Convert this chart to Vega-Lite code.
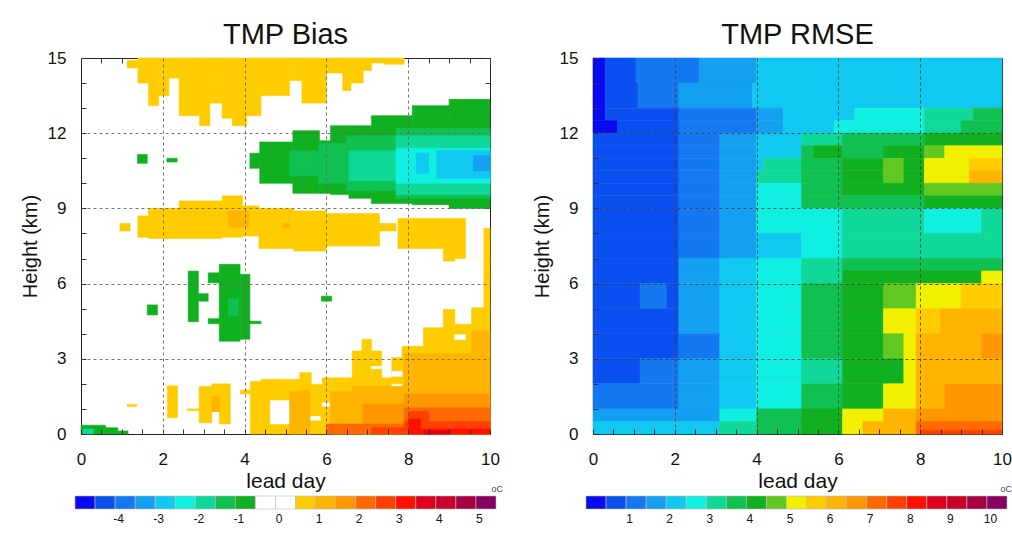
{
"$schema": "https://vega.github.io/schema/vega-lite/v6.json",
"background": "white",
"padding": {"left": 19, "top": 20, "right": 0, "bottom": 0},
"bounds": "flush",
"columns": 2,
"spacing": {"row": 62, "column": 103},
"resolve": {"scale": {"color": "independent", "stroke": "independent"}},
"config": {
  "font": "Liberation Sans",
  "view": {"stroke": "#222", "strokeWidth": 1},
  "axis": {"labelFont": "Liberation Sans", "titleFont": "Liberation Sans", "labelColor": "#111", "titleColor": "#111", "titleFontWeight": "normal", "domain": false, "labelFlush": false, "labelOverlap": false, "tickColor": "#333"},
  "title": {"font": "Liberation Sans", "fontWeight": "normal", "color": "#111"}
},
"datasets": {
  "bias": [
    {"x":1.13,"x2":1.39,"y":14.6,"y2":14.9,"v":0.75},
    {"x":1.39,"x2":1.65,"y":14.0,"y2":15,"v":0.75},
    {"x":1.65,"x2":1.9,"y":13.1,"y2":15,"v":0.75},
    {"x":1.9,"x2":2.15,"y":13.5,"y2":15,"v":0.75},
    {"x":2.15,"x2":2.4,"y":14.2,"y2":15,"v":0.75},
    {"x":2.4,"x2":2.9,"y":12.7,"y2":15,"v":0.75},
    {"x":2.9,"x2":3.15,"y":12.3,"y2":15,"v":0.75},
    {"x":3.15,"x2":3.45,"y":13.2,"y2":15,"v":0.75},
    {"x":3.45,"x2":3.7,"y":12.6,"y2":15,"v":0.75},
    {"x":3.7,"x2":4.05,"y":12.3,"y2":15,"v":0.75},
    {"x":4.05,"x2":4.4,"y":12.7,"y2":15,"v":0.75},
    {"x":4.4,"x2":5.1,"y":13.5,"y2":15,"v":0.75},
    {"x":5.1,"x2":5.4,"y":14.1,"y2":15,"v":0.75},
    {"x":5.4,"x2":6.0,"y":13.2,"y2":15,"v":0.75},
    {"x":6.0,"x2":6.4,"y":14.4,"y2":15,"v":0.75},
    {"x":6.4,"x2":6.6,"y":13.7,"y2":15,"v":0.75},
    {"x":6.6,"x2":6.9,"y":14.0,"y2":15,"v":0.75},
    {"x":6.9,"x2":7.1,"y":14.5,"y2":15,"v":0.75},
    {"x":7.1,"x2":7.4,"y":14.8,"y2":15,"v":0.75},
    {"x":7.4,"x2":7.9,"y":14.75,"y2":15,"v":0.75},
    {"x":1.38,"x2":1.62,"y":10.8,"y2":11.15,"v":-0.75},
    {"x":2.1,"x2":2.35,"y":10.85,"y2":11.0,"v":-0.75},
    {"x":4.13,"x2":4.37,"y":10.6,"y2":11.2,"v":-0.75},
    {"x":4.37,"x2":5.18,"y":10.0,"y2":11.65,"v":-0.75},
    {"x":5.18,"x2":5.83,"y":9.6,"y2":12.1,"v":-0.75},
    {"x":5.83,"x2":6.1,"y":9.6,"y2":11.7,"v":-0.75},
    {"x":6.1,"x2":6.55,"y":9.55,"y2":12.3,"v":-0.75},
    {"x":6.55,"x2":7.1,"y":9.4,"y2":12.3,"v":-0.75},
    {"x":7.1,"x2":8.1,"y":9.2,"y2":12.7,"v":-0.75},
    {"x":8.1,"x2":9.0,"y":9.15,"y2":13.1,"v":-0.75},
    {"x":9.0,"x2":10,"y":9.0,"y2":13.35,"v":-0.75},
    {"x":5.1,"x2":5.8,"y":10.3,"y2":11.3,"v":-1.25},
    {"x":5.8,"x2":6.5,"y":10.0,"y2":11.6,"v":-1.25},
    {"x":6.5,"x2":7.7,"y":9.7,"y2":11.9,"v":-1.25},
    {"x":7.7,"x2":10,"y":9.4,"y2":12.2,"v":-1.25},
    {"x":6.55,"x2":7.7,"y":10.1,"y2":11.3,"v":-1.75},
    {"x":7.7,"x2":10,"y":9.55,"y2":11.9,"v":-1.75},
    {"x":7.7,"x2":10,"y":10.0,"y2":11.4,"v":-2.25},
    {"x":8.2,"x2":8.5,"y":10.4,"y2":11.2,"v":-2.75},
    {"x":8.7,"x2":10,"y":10.2,"y2":11.3,"v":-2.75},
    {"x":9.6,"x2":10,"y":10.5,"y2":11.1,"v":-3.25},
    {"x":0.95,"x2":1.2,"y":8.1,"y2":8.4,"v":0.75},
    {"x":1.39,"x2":1.65,"y":7.85,"y2":8.7,"v":0.75},
    {"x":1.65,"x2":2.4,"y":7.8,"y2":9.0,"v":0.75},
    {"x":2.4,"x2":3.45,"y":7.8,"y2":9.3,"v":0.75},
    {"x":3.45,"x2":3.95,"y":7.85,"y2":9.5,"v":0.75},
    {"x":3.95,"x2":4.35,"y":7.9,"y2":9.1,"v":0.75},
    {"x":4.35,"x2":5.2,"y":7.4,"y2":9.0,"v":0.75},
    {"x":5.2,"x2":6.0,"y":7.3,"y2":8.9,"v":0.75},
    {"x":6.0,"x2":7.3,"y":7.5,"y2":8.8,"v":0.75},
    {"x":7.3,"x2":7.7,"y":8.1,"y2":8.4,"v":0.75},
    {"x":7.75,"x2":8.86,"y":7.4,"y2":8.6,"v":0.75},
    {"x":8.86,"x2":9.14,"y":6.9,"y2":8.6,"v":0.75},
    {"x":9.14,"x2":9.4,"y":7.0,"y2":8.6,"v":0.75},
    {"x":9.85,"x2":10,"y":5.0,"y2":8.2,"v":0.75},
    {"x":3.6,"x2":4.1,"y":8.25,"y2":8.9,"v":1.25},
    {"x":4.95,"x2":5.1,"y":8.25,"y2":8.4,"v":1.25},
    {"x":1.62,"x2":1.87,"y":4.75,"y2":5.15,"v":-0.75},
    {"x":2.62,"x2":2.87,"y":4.48,"y2":6.5,"v":-0.75},
    {"x":2.87,"x2":3.11,"y":5.3,"y2":5.6,"v":-0.75},
    {"x":3.11,"x2":3.38,"y":6.03,"y2":6.43,"v":-0.75},
    {"x":3.11,"x2":3.38,"y":4.4,"y2":4.6,"v":-0.75},
    {"x":3.38,"x2":3.89,"y":3.7,"y2":6.77,"v":-0.75},
    {"x":3.89,"x2":4.13,"y":3.78,"y2":6.37,"v":-0.75},
    {"x":4.13,"x2":4.4,"y":4.4,"y2":4.5,"v":-0.75},
    {"x":5.88,"x2":6.13,"y":5.3,"y2":5.5,"v":-0.75},
    {"x":3.6,"x2":3.85,"y":4.7,"y2":5.4,"v":-1.25},
    {"x":0,"x2":0.6,"y":0,"y2":0.35,"v":-0.75},
    {"x":0.6,"x2":0.9,"y":0,"y2":0.25,"v":-0.75},
    {"x":0.9,"x2":1.15,"y":0,"y2":0.12,"v":-0.75},
    {"x":0.05,"x2":0.3,"y":0,"y2":0.2,"v":-1.75},
    {"x":1.13,"x2":1.36,"y":1.1,"y2":1.18,"v":0.75},
    {"x":2.11,"x2":2.36,"y":0.65,"y2":1.92,"v":0.75},
    {"x":2.6,"x2":3.15,"y":0.93,"y2":1.0,"v":0.75},
    {"x":2.89,"x2":3.2,"y":0.45,"y2":1.9,"v":0.75},
    {"x":3.2,"x2":3.38,"y":0.9,"y2":2.0,"v":0.75},
    {"x":3.38,"x2":3.65,"y":0.4,"y2":2.0,"v":0.75},
    {"x":3.9,"x2":4.14,"y":1.6,"y2":1.75,"v":0.75},
    {"x":4.14,"x2":4.4,"y":0,"y2":2.1,"v":0.75},
    {"x":4.4,"x2":5.35,"y":0,"y2":2.18,"v":0.75},
    {"x":5.35,"x2":5.63,"y":0,"y2":2.45,"v":0.75},
    {"x":5.63,"x2":5.9,"y":0,"y2":1.98,"v":0.75},
    {"x":5.9,"x2":6.63,"y":0,"y2":2.24,"v":0.75},
    {"x":6.63,"x2":6.87,"y":0,"y2":3.31,"v":0.75},
    {"x":6.87,"x2":7.1,"y":0,"y2":3.78,"v":0.75},
    {"x":7.1,"x2":7.35,"y":0,"y2":3.31,"v":0.75},
    {"x":7.35,"x2":7.6,"y":0,"y2":2.24,"v":0.75},
    {"x":7.6,"x2":7.85,"y":0,"y2":3.05,"v":0.75},
    {"x":7.85,"x2":8.37,"y":0,"y2":3.5,"v":0.75},
    {"x":8.37,"x2":8.86,"y":0,"y2":4.24,"v":0.75},
    {"x":8.86,"x2":9.14,"y":0,"y2":4.97,"v":0.75},
    {"x":9.14,"x2":9.55,"y":0,"y2":4.38,"v":0.75},
    {"x":9.55,"x2":10,"y":0,"y2":5.04,"v":0.75},
    {"x":4.63,"x2":5.12,"y":0.4,"y2":1.33,"v":0.1},
    {"x":7.6,"x2":7.85,"y":1.52,"y2":1.98,"v":0.1},
    {"x":7.6,"x2":7.85,"y":2.3,"y2":2.5,"v":0.1},
    {"x":9.14,"x2":9.4,"y":3.77,"y2":3.96,"v":0.1},
    {"x":5.9,"x2":6.1,"y":1.1,"y2":1.25,"v":0.1},
    {"x":5.6,"x2":5.85,"y":0.55,"y2":0.7,"v":0.1},
    {"x":7.1,"x2":7.35,"y":2.6,"y2":2.7,"v":0.1},
    {"x":3.2,"x2":3.38,"y":0.9,"y2":1.5,"v":1.25},
    {"x":5.1,"x2":5.35,"y":0,"y2":1.7,"v":1.25},
    {"x":5.35,"x2":5.6,"y":0,"y2":1.75,"v":1.25},
    {"x":6.1,"x2":6.63,"y":0,"y2":1.7,"v":1.25},
    {"x":6.63,"x2":7.9,"y":0,"y2":1.9,"v":1.25},
    {"x":7.9,"x2":9.55,"y":0,"y2":3.2,"v":1.25},
    {"x":9.55,"x2":10,"y":0,"y2":4.1,"v":1.25},
    {"x":6.9,"x2":7.9,"y":0,"y2":1.2,"v":1.75},
    {"x":7.9,"x2":10,"y":0,"y2":1.6,"v":1.75},
    {"x":6.0,"x2":7.9,"y":0,"y2":0.4,"v":2.25},
    {"x":7.9,"x2":10,"y":0,"y2":1.05,"v":2.25},
    {"x":7.1,"x2":7.9,"y":0,"y2":0.25,"v":2.75},
    {"x":7.9,"x2":10,"y":0,"y2":0.5,"v":2.75},
    {"x":8.0,"x2":8.5,"y":0,"y2":0.9,"v":2.75},
    {"x":8.0,"x2":8.3,"y":0,"y2":0.6,"v":3.25},
    {"x":8.3,"x2":10,"y":0,"y2":0.2,"v":3.25},
    {"x":8.4,"x2":9.0,"y":0,"y2":0.12,"v":3.75}
  ],
  "rmse": [
    {"x":0,"x2":0.3,"y":14,"y2":15,"v":0.25},{"x":0.3,"x2":1.05,"y":14,"y2":15,"v":0.75},{"x":1.05,"x2":2.6,"y":14,"y2":15,"v":1.25},{"x":2.6,"x2":4.0,"y":14,"y2":15,"v":1.75},{"x":4.0,"x2":10,"y":14,"y2":15,"v":2.25},
    {"x":0,"x2":0.3,"y":13,"y2":14,"v":0.25},{"x":0.3,"x2":1.1,"y":13,"y2":14,"v":0.75},{"x":1.1,"x2":2.1,"y":13,"y2":14,"v":1.25},{"x":2.1,"x2":3.9,"y":13,"y2":14,"v":1.75},{"x":3.9,"x2":10,"y":13,"y2":14,"v":2.25},
    {"x":0,"x2":0.3,"y":12.5,"y2":13,"v":0.25},{"x":0.3,"x2":2.1,"y":12.5,"y2":13,"v":0.75},{"x":2.1,"x2":4.0,"y":12.5,"y2":13,"v":1.25},{"x":4.0,"x2":4.65,"y":12.5,"y2":13,"v":1.75},{"x":4.65,"x2":6.4,"y":12.5,"y2":13,"v":2.25},{"x":6.4,"x2":8.1,"y":12.5,"y2":13,"v":2.75},{"x":8.1,"x2":9.3,"y":12.5,"y2":13,"v":3.25},{"x":9.3,"x2":10,"y":12.5,"y2":13,"v":3.75},
    {"x":0,"x2":0.6,"y":12,"y2":12.5,"v":0.25},{"x":0.6,"x2":2.1,"y":12,"y2":12.5,"v":0.75},{"x":2.1,"x2":4.0,"y":12,"y2":12.5,"v":1.25},{"x":4.0,"x2":4.65,"y":12,"y2":12.5,"v":1.75},{"x":4.65,"x2":5.9,"y":12,"y2":12.5,"v":2.25},{"x":5.9,"x2":8.1,"y":12,"y2":12.5,"v":2.75},{"x":8.1,"x2":9.0,"y":12,"y2":12.5,"v":3.25},{"x":9.0,"x2":10,"y":12,"y2":12.5,"v":3.75},
    {"x":0,"x2":2.1,"y":11.5,"y2":12,"v":0.75},{"x":2.1,"x2":3.1,"y":11.5,"y2":12,"v":1.25},{"x":3.1,"x2":4.0,"y":11.5,"y2":12,"v":1.75},{"x":4.0,"x2":5.1,"y":11.5,"y2":12,"v":2.25},{"x":5.1,"x2":6.1,"y":11.5,"y2":12,"v":3.25},{"x":6.1,"x2":8.1,"y":11.5,"y2":12,"v":3.75},{"x":8.1,"x2":10,"y":11.5,"y2":12,"v":4.25},
    {"x":0,"x2":2.1,"y":11,"y2":11.5,"v":0.75},{"x":2.1,"x2":3.1,"y":11,"y2":11.5,"v":1.25},{"x":3.1,"x2":4.0,"y":11,"y2":11.5,"v":1.75},{"x":4.0,"x2":5.1,"y":11,"y2":11.5,"v":2.25},{"x":5.1,"x2":5.4,"y":11,"y2":11.5,"v":3.75},{"x":5.4,"x2":6.1,"y":11,"y2":11.5,"v":4.25},{"x":6.1,"x2":7.1,"y":11,"y2":11.5,"v":3.75},{"x":7.1,"x2":8.1,"y":11,"y2":11.5,"v":4.25},{"x":8.1,"x2":8.6,"y":11,"y2":11.5,"v":4.75},{"x":8.6,"x2":10,"y":11,"y2":11.5,"v":5.25},
    {"x":0,"x2":2.1,"y":10.5,"y2":11,"v":0.75},{"x":2.1,"x2":3.1,"y":10.5,"y2":11,"v":1.25},{"x":3.1,"x2":4.0,"y":10.5,"y2":11,"v":1.75},{"x":4.0,"x2":4.16,"y":10.5,"y2":11,"v":2.25},{"x":4.16,"x2":5.1,"y":10.5,"y2":11,"v":3.25},{"x":5.1,"x2":6.1,"y":10.5,"y2":11,"v":3.75},{"x":6.1,"x2":7.1,"y":10.5,"y2":11,"v":4.25},{"x":7.1,"x2":7.6,"y":10.5,"y2":11,"v":4.75},{"x":7.6,"x2":8.1,"y":10.5,"y2":11,"v":4.25},{"x":8.1,"x2":9.2,"y":10.5,"y2":11,"v":5.25},{"x":9.2,"x2":10,"y":10.5,"y2":11,"v":5.75},
    {"x":0,"x2":2.1,"y":10,"y2":10.5,"v":0.75},{"x":2.1,"x2":3.1,"y":10,"y2":10.5,"v":1.25},{"x":3.1,"x2":4.0,"y":10,"y2":10.5,"v":1.75},{"x":4.0,"x2":5.1,"y":10,"y2":10.5,"v":3.25},{"x":5.1,"x2":6.1,"y":10,"y2":10.5,"v":3.75},{"x":6.1,"x2":7.1,"y":10,"y2":10.5,"v":4.25},{"x":7.1,"x2":7.6,"y":10,"y2":10.5,"v":4.75},{"x":7.6,"x2":8.1,"y":10,"y2":10.5,"v":4.25},{"x":8.1,"x2":9.2,"y":10,"y2":10.5,"v":5.25},{"x":9.2,"x2":10,"y":10,"y2":10.5,"v":6.25},
    {"x":0,"x2":2.1,"y":9.5,"y2":10,"v":0.75},{"x":2.1,"x2":3.1,"y":9.5,"y2":10,"v":1.25},{"x":3.1,"x2":4.0,"y":9.5,"y2":10,"v":1.75},{"x":4.0,"x2":5.1,"y":9.5,"y2":10,"v":2.75},{"x":5.1,"x2":6.1,"y":9.5,"y2":10,"v":3.75},{"x":6.1,"x2":8.1,"y":9.5,"y2":10,"v":4.25},{"x":8.1,"x2":10,"y":9.5,"y2":10,"v":4.75},
    {"x":0,"x2":2.1,"y":9,"y2":9.5,"v":0.75},{"x":2.1,"x2":3.1,"y":9,"y2":9.5,"v":1.25},{"x":3.1,"x2":4.0,"y":9,"y2":9.5,"v":1.75},{"x":4.0,"x2":5.1,"y":9,"y2":9.5,"v":2.75},{"x":5.1,"x2":8.1,"y":9,"y2":9.5,"v":3.75},{"x":8.1,"x2":10,"y":9,"y2":9.5,"v":4.25},
    {"x":0,"x2":2.1,"y":8,"y2":9,"v":0.75},{"x":2.1,"x2":3.1,"y":8,"y2":9,"v":1.25},{"x":3.1,"x2":4.0,"y":8,"y2":9,"v":1.75},{"x":4.0,"x2":6.1,"y":8,"y2":9,"v":2.75},{"x":6.1,"x2":8.1,"y":8,"y2":9,"v":3.25},{"x":8.1,"x2":9.5,"y":8,"y2":9,"v":2.75},{"x":9.5,"x2":10,"y":8,"y2":9,"v":3.25},
    {"x":0,"x2":2.1,"y":7,"y2":8,"v":0.75},{"x":2.1,"x2":3.1,"y":7,"y2":8,"v":1.25},{"x":3.1,"x2":4.0,"y":7,"y2":8,"v":1.75},{"x":4.0,"x2":5.1,"y":7,"y2":8,"v":2.25},{"x":5.1,"x2":6.1,"y":7,"y2":8,"v":2.75},{"x":6.1,"x2":10,"y":7,"y2":8,"v":3.25},
    {"x":0,"x2":2.1,"y":6.5,"y2":7,"v":0.75},{"x":2.1,"x2":3.1,"y":6.5,"y2":7,"v":1.75},{"x":3.1,"x2":4.0,"y":6.5,"y2":7,"v":2.25},{"x":4.0,"x2":5.1,"y":6.5,"y2":7,"v":2.75},{"x":5.1,"x2":6.1,"y":6.5,"y2":7,"v":3.25},{"x":6.1,"x2":10,"y":6.5,"y2":7,"v":3.75},
    {"x":0,"x2":2.1,"y":6,"y2":6.5,"v":0.75},{"x":2.1,"x2":3.1,"y":6,"y2":6.5,"v":1.75},{"x":3.1,"x2":4.0,"y":6,"y2":6.5,"v":2.25},{"x":4.0,"x2":5.1,"y":6,"y2":6.5,"v":2.75},{"x":5.1,"x2":6.1,"y":6,"y2":6.5,"v":3.25},{"x":6.1,"x2":9.5,"y":6,"y2":6.5,"v":4.25},{"x":9.5,"x2":10,"y":6,"y2":6.5,"v":5.25},
    {"x":0,"x2":1.15,"y":5,"y2":6,"v":0.75},{"x":1.15,"x2":1.8,"y":5,"y2":6,"v":1.25},{"x":1.8,"x2":2.1,"y":5,"y2":6,"v":0.75},{"x":2.1,"x2":3.1,"y":5,"y2":6,"v":1.75},{"x":3.1,"x2":4.0,"y":5,"y2":6,"v":2.25},{"x":4.0,"x2":5.1,"y":5,"y2":6,"v":2.75},{"x":5.1,"x2":6.1,"y":5,"y2":6,"v":3.75},{"x":6.1,"x2":7.1,"y":5,"y2":6,"v":4.25},{"x":7.1,"x2":7.9,"y":5,"y2":6,"v":4.75},{"x":7.9,"x2":9.0,"y":5,"y2":6,"v":5.25},{"x":9.0,"x2":10,"y":5,"y2":6,"v":5.75},
    {"x":0,"x2":2.1,"y":4,"y2":5,"v":0.75},{"x":2.1,"x2":3.1,"y":4,"y2":5,"v":1.75},{"x":3.1,"x2":4.0,"y":4,"y2":5,"v":2.25},{"x":4.0,"x2":5.1,"y":4,"y2":5,"v":2.75},{"x":5.1,"x2":6.1,"y":4,"y2":5,"v":3.75},{"x":6.1,"x2":7.1,"y":4,"y2":5,"v":4.25},{"x":7.1,"x2":7.9,"y":4,"y2":5,"v":5.25},{"x":7.9,"x2":8.5,"y":4,"y2":5,"v":5.75},{"x":8.5,"x2":10,"y":4,"y2":5,"v":6.25},
    {"x":0,"x2":2.1,"y":3,"y2":4,"v":0.75},{"x":2.1,"x2":3.1,"y":3,"y2":4,"v":1.25},{"x":3.1,"x2":4.0,"y":3,"y2":4,"v":2.25},{"x":4.0,"x2":5.1,"y":3,"y2":4,"v":2.75},{"x":5.1,"x2":6.1,"y":3,"y2":4,"v":3.75},{"x":6.1,"x2":7.1,"y":3,"y2":4,"v":4.25},{"x":7.1,"x2":7.6,"y":3,"y2":4,"v":4.75},{"x":7.6,"x2":7.9,"y":3,"y2":4,"v":5.25},{"x":7.9,"x2":9.5,"y":3,"y2":4,"v":6.25},{"x":9.5,"x2":10,"y":3,"y2":4,"v":6.75},
    {"x":0,"x2":1.15,"y":2,"y2":3,"v":0.75},{"x":1.15,"x2":2.1,"y":2,"y2":3,"v":1.25},{"x":2.1,"x2":3.1,"y":2,"y2":3,"v":1.75},{"x":3.1,"x2":4.0,"y":2,"y2":3,"v":2.25},{"x":4.0,"x2":5.1,"y":2,"y2":3,"v":2.75},{"x":5.1,"x2":6.1,"y":2,"y2":3,"v":3.25},{"x":6.1,"x2":7.6,"y":2,"y2":3,"v":4.25},{"x":7.6,"x2":7.9,"y":2,"y2":3,"v":5.25},{"x":7.9,"x2":10,"y":2,"y2":3,"v":6.25},
    {"x":0,"x2":2.1,"y":1,"y2":2,"v":1.25},{"x":2.1,"x2":3.1,"y":1,"y2":2,"v":1.75},{"x":3.1,"x2":4.0,"y":1,"y2":2,"v":2.25},{"x":4.0,"x2":5.1,"y":1,"y2":2,"v":2.75},{"x":5.1,"x2":6.1,"y":1,"y2":2,"v":3.75},{"x":6.1,"x2":7.1,"y":1,"y2":2,"v":4.25},{"x":7.1,"x2":7.9,"y":1,"y2":2,"v":5.25},{"x":7.9,"x2":8.6,"y":1,"y2":2,"v":6.25},{"x":8.6,"x2":10,"y":1,"y2":2,"v":6.75},
    {"x":0,"x2":3.1,"y":0.5,"y2":1,"v":1.75},{"x":3.1,"x2":4.0,"y":0.5,"y2":1,"v":2.75},{"x":4.0,"x2":5.1,"y":0.5,"y2":1,"v":3.75},{"x":5.1,"x2":6.1,"y":0.5,"y2":1,"v":4.25},{"x":6.1,"x2":7.1,"y":0.5,"y2":1,"v":5.25},{"x":7.1,"x2":7.9,"y":0.5,"y2":1,"v":6.25},{"x":7.9,"x2":10,"y":0.5,"y2":1,"v":6.75},
    {"x":0,"x2":3.1,"y":0,"y2":0.5,"v":2.25},{"x":3.1,"x2":4.0,"y":0,"y2":0.5,"v":3.25},{"x":4.0,"x2":5.1,"y":0,"y2":0.5,"v":3.75},{"x":5.1,"x2":6.1,"y":0,"y2":0.5,"v":4.25},{"x":6.1,"x2":6.6,"y":0,"y2":0.5,"v":5.25},{"x":6.6,"x2":7.9,"y":0,"y2":0.5,"v":6.25},{"x":7.9,"x2":10,"y":0,"y2":0.5,"v":7.25},
    {"x":8.0,"x2":10,"y":0,"y2":0.15,"v":7.75}
  ],
  "biasbar": [
    {"lo":-5,"hi":-4.5,"v":-4.75},{"lo":-4.5,"hi":-4,"v":-4.25},{"lo":-4,"hi":-3.5,"v":-3.75},{"lo":-3.5,"hi":-3,"v":-3.25},{"lo":-3,"hi":-2.5,"v":-2.75},{"lo":-2.5,"hi":-2,"v":-2.25},{"lo":-2,"hi":-1.5,"v":-1.75},{"lo":-1.5,"hi":-1,"v":-1.25},{"lo":-1,"hi":-0.5,"v":-0.75},{"lo":-0.5,"hi":0,"v":-0.25},{"lo":0,"hi":0.5,"v":0.25},{"lo":0.5,"hi":1,"v":0.75},{"lo":1,"hi":1.5,"v":1.25},{"lo":1.5,"hi":2,"v":1.75},{"lo":2,"hi":2.5,"v":2.25},{"lo":2.5,"hi":3,"v":2.75},{"lo":3,"hi":3.5,"v":3.25},{"lo":3.5,"hi":4,"v":3.75},{"lo":4,"hi":4.5,"v":4.25},{"lo":4.5,"hi":5,"v":4.75},{"lo":5,"hi":5.5,"v":5.25}
  ],
  "rmsebar": [
    {"lo":0,"hi":0.5,"v":0.25},{"lo":0.5,"hi":1,"v":0.75},{"lo":1,"hi":1.5,"v":1.25},{"lo":1.5,"hi":2,"v":1.75},{"lo":2,"hi":2.5,"v":2.25},{"lo":2.5,"hi":3,"v":2.75},{"lo":3,"hi":3.5,"v":3.25},{"lo":3.5,"hi":4,"v":3.75},{"lo":4,"hi":4.5,"v":4.25},{"lo":4.5,"hi":5,"v":4.75},{"lo":5,"hi":5.5,"v":5.25},{"lo":5.5,"hi":6,"v":5.75},{"lo":6,"hi":6.5,"v":6.25},{"lo":6.5,"hi":7,"v":6.75},{"lo":7,"hi":7.5,"v":7.25},{"lo":7.5,"hi":8,"v":7.75},{"lo":8,"hi":8.5,"v":8.25},{"lo":8.5,"hi":9,"v":8.75},{"lo":9,"hi":9.5,"v":9.25},{"lo":9.5,"hi":10,"v":9.75},{"lo":10,"hi":10.5,"v":10.25}
  ]
},
"concat": [
  {
    "title": {"text": "TMP Bias", "fontSize": 29, "offset": -1},
    "width": 409, "height": 376,
    "data": {"name": "bias"},
    "layer": [
      {"mark": {"type": "rect", "strokeWidth": 0.6},
       "encoding": {
        "x": {"field": "x", "type": "quantitative", "scale": {"domain": [0, 10], "nice": false, "zero": false},
              "axis": {"orient": "bottom", "values": [0,0.5,1,1.5,2,2.5,3,3.5,4,4.5,5,5.5,6,6.5,7,7.5,8,8.5,9,9.5,10], "labelExpr": "datum.value % 2 === 0 ? toString(datum.value) : ''", "grid": true, "gridDash": [3,3], "gridColor": "#666", "gridOpacity": {"condition": {"test": "datum.value % 2 === 0 && datum.value > 0 && datum.value < 10", "value": 0.9}, "value": 0}, "tickSize": -5, "labelPadding": 22, "labelFontSize": 17, "title": "lead day", "titleFontSize": 21, "titlePadding": 3, "zindex": 1}},
        "x2": {"field": "x2"},
        "y": {"field": "y", "type": "quantitative", "scale": {"domain": [0, 15], "nice": false, "zero": false},
              "axis": {"orient": "left", "values": [0,1,2,3,4,5,6,7,8,9,10,11,12,13,14,15], "labelExpr": "datum.value % 3 === 0 ? toString(datum.value) : ''", "grid": true, "gridDash": [3,3], "gridColor": "#666", "gridOpacity": {"condition": {"test": "datum.value % 3 === 0 && datum.value > 0 && datum.value < 15", "value": 0.9}, "value": 0}, "tickSize": -5, "labelPadding": 20, "labelFontSize": 17, "title": "Height (km)", "titleFontSize": 20, "titlePadding": 7, "zindex": 1}},
        "y2": {"field": "y2"},
        "color": {"field": "v", "type": "quantitative", "legend": null,
          "scale": {"type": "threshold", "domain": [-4.5,-4,-3.5,-3,-2.5,-2,-1.5,-1,-0.5,0,0.5,1,1.5,2,2.5,3,3.5,4,4.5,5],
            "range": ["#0a0af0","#0a50f0","#1478f0","#14a0f0","#10c8f0","#10f0e0","#10d898","#10c050","#10b020","#ffffff","#ffffff","#ffcc00","#ffb400","#ff9800","#ff6a00","#ff4000","#ff1000","#e0001c","#c8002c","#a80040","#880060"]}},
        "stroke": {"field": "v", "type": "quantitative", "legend": null,
          "scale": {"type": "threshold", "domain": [-4.5,-4,-3.5,-3,-2.5,-2,-1.5,-1,-0.5,0,0.5,1,1.5,2,2.5,3,3.5,4,4.5,5],
            "range": ["#0a0af0","#0a50f0","#1478f0","#14a0f0","#10c8f0","#10f0e0","#10d898","#10c050","#10b020","#ffffff","#ffffff","#ffcc00","#ffb400","#ff9800","#ff6a00","#ff4000","#ff1000","#e0001c","#c8002c","#a80040","#880060"]}}
       }},
      {"mark": {"type": "point", "opacity": 0},
       "encoding": {
        "x": {"field": "x", "type": "quantitative", "scale": {"domain": [0, 10], "nice": false, "zero": false},
              "axis": {"orient": "top", "values": [0,0.5,1,1.5,2,2.5,3,3.5,4,4.5,5,5.5,6,6.5,7,7.5,8,8.5,9,9.5,10], "labels": false, "grid": false, "tickSize": -5, "title": null}},
        "y": {"field": "y", "type": "quantitative", "scale": {"domain": [0, 15], "nice": false, "zero": false},
              "axis": {"orient": "right", "values": [0,1,2,3,4,5,6,7,8,9,10,11,12,13,14,15], "labels": false, "grid": false, "tickSize": -5, "title": null}}
       }}
    ],
    "resolve": {"scale": {"x": "independent", "y": "independent"}, "axis": {"x": "independent", "y": "independent"}}
  },
  {
    "title": {"text": "TMP RMSE", "fontSize": 29, "offset": -1},
    "width": 409, "height": 376,
    "data": {"name": "rmse"},
    "layer": [
      {"mark": {"type": "rect", "strokeWidth": 0.6},
       "encoding": {
        "x": {"field": "x", "type": "quantitative", "scale": {"domain": [0, 10], "nice": false, "zero": false},
              "axis": {"orient": "bottom", "values": [0,0.5,1,1.5,2,2.5,3,3.5,4,4.5,5,5.5,6,6.5,7,7.5,8,8.5,9,9.5,10], "labelExpr": "datum.value % 2 === 0 ? toString(datum.value) : ''", "grid": true, "gridDash": [3,3], "gridColor": "#444", "gridOpacity": {"condition": {"test": "datum.value % 2 === 0 && datum.value > 0 && datum.value < 10", "value": 0.9}, "value": 0}, "tickSize": -5, "labelPadding": 22, "labelFontSize": 17, "title": "lead day", "titleFontSize": 21, "titlePadding": 3, "zindex": 1}},
        "x2": {"field": "x2"},
        "y": {"field": "y", "type": "quantitative", "scale": {"domain": [0, 15], "nice": false, "zero": false},
              "axis": {"orient": "left", "values": [0,1,2,3,4,5,6,7,8,9,10,11,12,13,14,15], "labelExpr": "datum.value % 3 === 0 ? toString(datum.value) : ''", "grid": true, "gridDash": [3,3], "gridColor": "#444", "gridOpacity": {"condition": {"test": "datum.value % 3 === 0 && datum.value > 0 && datum.value < 15", "value": 0.9}, "value": 0}, "tickSize": -5, "labelPadding": 20, "labelFontSize": 17, "title": "Height (km)", "titleFontSize": 20, "titlePadding": 7, "zindex": 1}},
        "y2": {"field": "y2"},
        "color": {"field": "v", "type": "quantitative", "legend": null,
          "scale": {"type": "threshold", "domain": [0.5,1,1.5,2,2.5,3,3.5,4,4.5,5,5.5,6,6.5,7,7.5,8,8.5,9,9.5,10],
            "range": ["#0a0af0","#0a50f0","#1478f0","#14a0f0","#10c8f0","#10f0e0","#10d898","#10c050","#10b020","#60c820","#f0f000","#ffcc00","#ffb400","#ff9800","#ff6a00","#ff4000","#ff1000","#e0001c","#c8002c","#a80040","#880060"]}},
        "stroke": {"field": "v", "type": "quantitative", "legend": null,
          "scale": {"type": "threshold", "domain": [0.5,1,1.5,2,2.5,3,3.5,4,4.5,5,5.5,6,6.5,7,7.5,8,8.5,9,9.5,10],
            "range": ["#0a0af0","#0a50f0","#1478f0","#14a0f0","#10c8f0","#10f0e0","#10d898","#10c050","#10b020","#60c820","#f0f000","#ffcc00","#ffb400","#ff9800","#ff6a00","#ff4000","#ff1000","#e0001c","#c8002c","#a80040","#880060"]}}
       }},
      {"mark": {"type": "point", "opacity": 0},
       "encoding": {
        "x": {"field": "x", "type": "quantitative", "scale": {"domain": [0, 10], "nice": false, "zero": false},
              "axis": {"orient": "top", "values": [0,0.5,1,1.5,2,2.5,3,3.5,4,4.5,5,5.5,6,6.5,7,7.5,8,8.5,9,9.5,10], "labels": false, "grid": false, "tickSize": -5, "title": null}},
        "y": {"field": "y", "type": "quantitative", "scale": {"domain": [0, 15], "nice": false, "zero": false},
              "axis": {"orient": "right", "values": [0,1,2,3,4,5,6,7,8,9,10,11,12,13,14,15], "labels": false, "grid": false, "tickSize": -5, "title": null}}
       }}
    ],
    "resolve": {"scale": {"x": "independent", "y": "independent"}, "axis": {"x": "independent", "y": "independent"}}
  },
  {
    "title": {"text": "oC", "anchor": "end", "fontSize": 9, "offset": 2, "dx": 1, "color": "#444"},
    "width": 409, "height": 13,
    "data": {"name": "biasbar"},
    "view": {"stroke": null},
    "mark": {"type": "rect", "stroke": "#b8b8b8", "strokeWidth": 0.6},
    "encoding": {
      "x": {"field": "lo", "type": "quantitative", "scale": {"domain": [-5, 5.5], "range": [-6, 415], "nice": false, "zero": false},
            "axis": {"values": [-4,-3,-2,-1,0,1,2,3,4,5], "labelExpr": "toString(datum.value)", "ticks": false, "grid": false, "title": null, "labelFontSize": 12, "labelPadding": 4, "labelOffset": 3}},
      "x2": {"field": "hi"},
      "color": {"field": "v", "type": "quantitative", "legend": null,
        "scale": {"type": "threshold", "domain": [-4.5,-4,-3.5,-3,-2.5,-2,-1.5,-1,-0.5,0,0.5,1,1.5,2,2.5,3,3.5,4,4.5,5],
          "range": ["#0a0af0","#0a50f0","#1478f0","#14a0f0","#10c8f0","#10f0e0","#10d898","#10c050","#10b020","#ffffff","#ffffff","#ffcc00","#ffb400","#ff9800","#ff6a00","#ff4000","#ff1000","#e0001c","#c8002c","#a80040","#880060"]}}
    }
  },
  {
    "title": {"text": "oC", "anchor": "end", "fontSize": 9, "offset": 2, "dx": -2, "color": "#444"},
    "width": 409, "height": 13,
    "data": {"name": "rmsebar"},
    "view": {"stroke": null},
    "mark": {"type": "rect", "stroke": "#b8b8b8", "strokeWidth": 0.6},
    "encoding": {
      "x": {"field": "lo", "type": "quantitative", "scale": {"domain": [0, 10.5], "range": [-7, 414], "nice": false, "zero": false},
            "axis": {"values": [1,2,3,4,5,6,7,8,9,10], "labelExpr": "toString(datum.value)", "ticks": false, "grid": false, "title": null, "labelFontSize": 12, "labelPadding": 4, "labelOffset": 3}},
      "x2": {"field": "hi"},
      "color": {"field": "v", "type": "quantitative", "legend": null,
        "scale": {"type": "threshold", "domain": [0.5,1,1.5,2,2.5,3,3.5,4,4.5,5,5.5,6,6.5,7,7.5,8,8.5,9,9.5,10],
          "range": ["#0a0af0","#0a50f0","#1478f0","#14a0f0","#10c8f0","#10f0e0","#10d898","#10c050","#10b020","#60c820","#f0f000","#ffcc00","#ffb400","#ff9800","#ff6a00","#ff4000","#ff1000","#e0001c","#c8002c","#a80040","#880060"]}}
    }
  }
]
}
